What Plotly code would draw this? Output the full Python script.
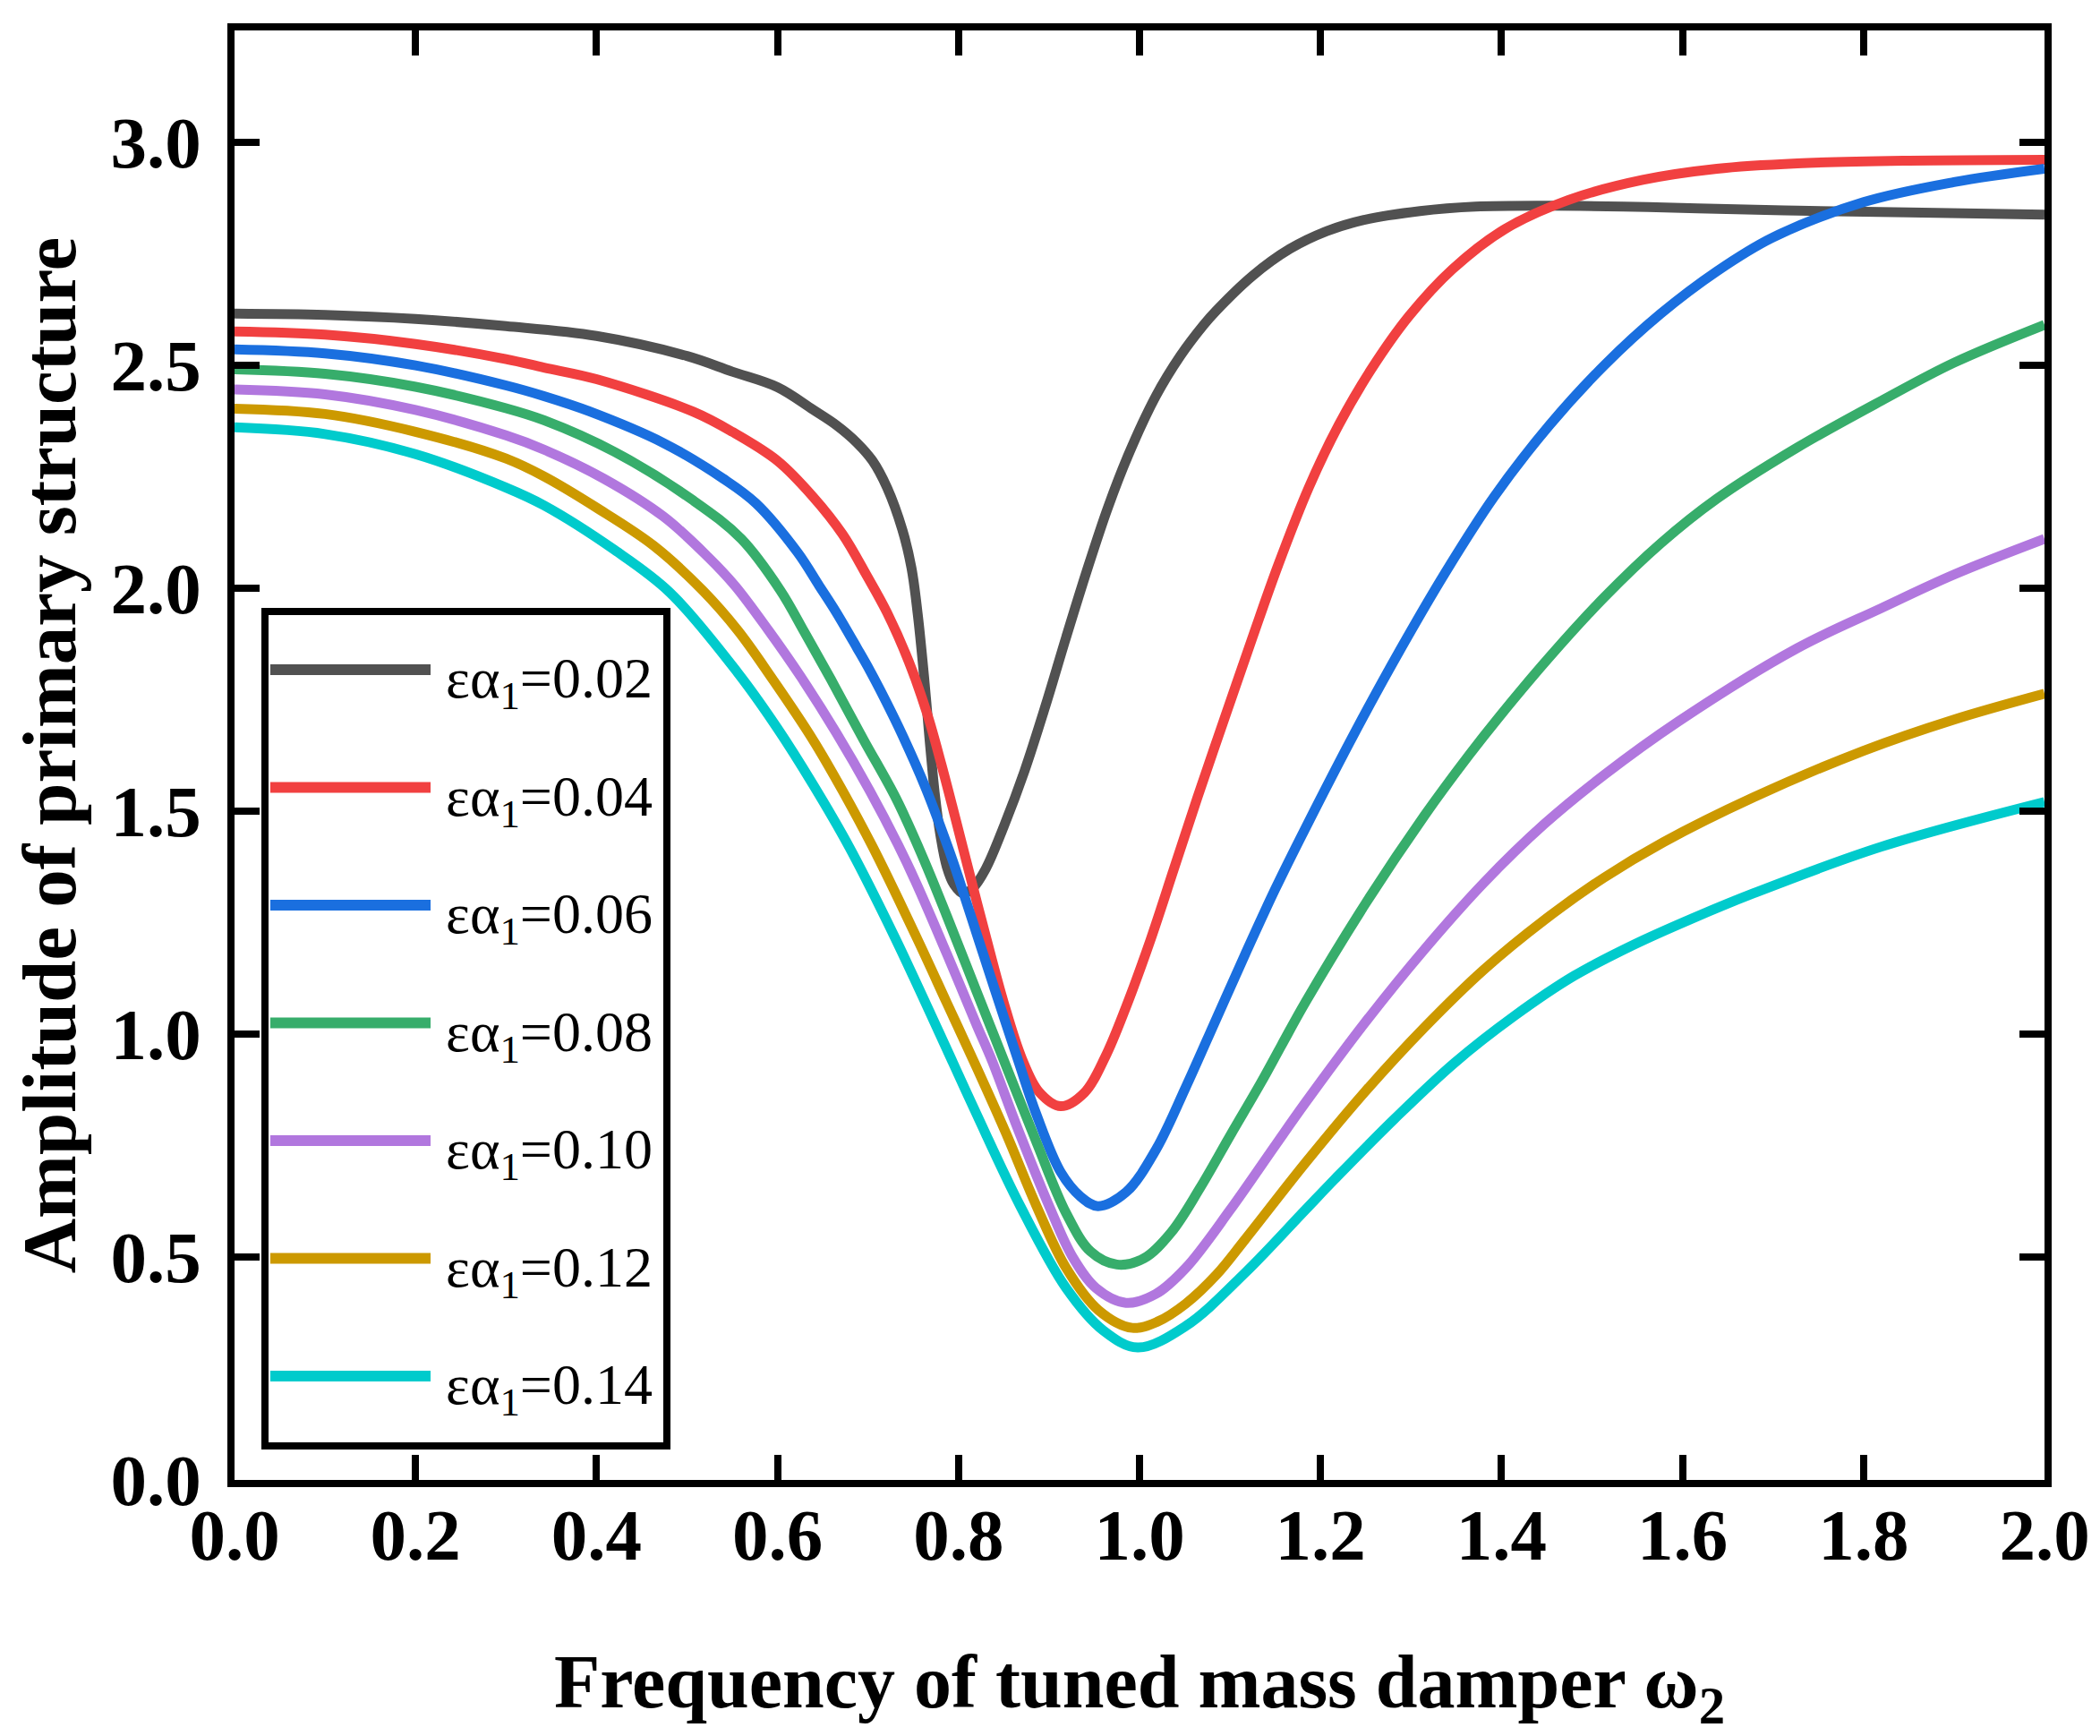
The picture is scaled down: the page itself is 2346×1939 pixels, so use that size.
import plotly.graph_objects as go

# ---- data ----
labels = ["εα<sub>1</sub>=0.02", "εα<sub>1</sub>=0.04", "εα<sub>1</sub>=0.06", "εα<sub>1</sub>=0.08",
          "εα<sub>1</sub>=0.10", "εα<sub>1</sub>=0.12", "εα<sub>1</sub>=0.14"]
colors = ["#515151", "#F14040", "#1A6FDF", "#37AD6B", "#B177DE", "#CC9900", "#00CBCC"]

w_002 = [0, 0.1, 0.2, 0.3, 0.4, 0.5, 0.55, 0.6, 0.639, 0.665, 0.688, 0.705, 0.721, 0.738, 0.748,
         0.755, 0.762, 0.768, 0.774, 0.780, 0.787, 0.795, 0.805, 0.815, 0.830, 0.850, 0.873, 0.896,
         0.919, 0.942, 0.965, 0.988, 1.018, 1.045, 1.071, 1.084, 1.125, 1.166, 1.207, 1.248, 1.31,
         1.371, 1.453, 1.535, 1.617, 1.727, 1.85, 2.0]
a_002 = [2.615, 2.612, 2.603, 2.587, 2.565, 2.52, 2.485, 2.45, 2.40, 2.365, 2.325, 2.285, 2.225, 2.13,
         2.045, 1.94, 1.80, 1.66, 1.535, 1.445, 1.375, 1.335, 1.315, 1.325, 1.37, 1.465, 1.59, 1.735,
         1.89, 2.04, 2.18, 2.30, 2.43, 2.52, 2.59, 2.62, 2.70, 2.76, 2.80, 2.825, 2.845,
         2.855, 2.857, 2.855, 2.851, 2.846, 2.842, 2.837]

w_004 = [0, 0.1, 0.2, 0.3, 0.342, 0.4, 0.507, 0.55, 0.60, 0.639, 0.672, 0.698, 0.721, 0.745, 0.765,
         0.781, 0.797, 0.814, 0.830, 0.850, 0.870, 0.889, 0.913, 0.939, 0.962, 0.985, 1.012,
         1.038, 1.064, 1.096, 1.125, 1.153, 1.187, 1.220, 1.256, 1.298, 1.346, 1.404, 1.474, 1.556,
         1.638, 1.727, 1.85, 2.0]
a_004 = [2.575, 2.568, 2.547, 2.513, 2.494, 2.468, 2.395, 2.35, 2.285, 2.205, 2.12, 2.03, 1.945, 1.835, 1.72,
         1.605, 1.48, 1.345, 1.22, 1.07, 0.945, 0.87, 0.838, 0.868, 0.948, 1.06, 1.21,
         1.37, 1.53, 1.72, 1.89, 2.05, 2.225, 2.365, 2.49, 2.61, 2.715, 2.805, 2.87, 2.915,
         2.94, 2.952, 2.958, 2.96]

w_006 = [0, 0.1, 0.2, 0.3, 0.342, 0.392, 0.474, 0.540, 0.576, 0.622, 0.646, 0.665, 0.688, 0.702, 0.72,
         0.738, 0.764, 0.789, 0.800, 0.820, 0.840, 0.866, 0.886, 0.913, 0.935, 0.954, 0.985, 1.018,
         1.051, 1.084, 1.117, 1.150, 1.183, 1.239, 1.289, 1.338, 1.392, 1.453, 1.514, 1.576, 1.638,
         1.699, 1.8, 1.9, 2.0]
a_006 = [2.535, 2.526, 2.499, 2.454, 2.43, 2.396, 2.325, 2.245, 2.19, 2.08, 2.005, 1.945, 1.865, 1.815, 1.745,
         1.67, 1.55, 1.415, 1.35, 1.225, 1.10, 0.94, 0.82, 0.69, 0.635, 0.614, 0.645, 0.74,
         0.88, 1.03, 1.18, 1.325, 1.46, 1.68, 1.865, 2.035, 2.205, 2.365, 2.50, 2.615, 2.71,
         2.785, 2.865, 2.91, 2.94]

w_008 = [0, 0.1, 0.2, 0.3, 0.342, 0.42, 0.507, 0.560, 0.603, 0.630, 0.659, 0.695, 0.731, 0.761,
         0.787, 0.820, 0.853, 0.886, 0.919, 0.946, 0.975, 1.005, 1.035, 1.067, 1.101, 1.134, 1.157,
         1.183, 1.249, 1.315, 1.364, 1.397, 1.453, 1.514, 1.576, 1.638, 1.727, 1.82, 1.9, 2.0]
a_008 = [2.49, 2.48, 2.451, 2.403, 2.376, 2.305, 2.196, 2.11, 1.995, 1.90, 1.795, 1.66, 1.528, 1.394,
         1.265, 1.095, 0.926, 0.758, 0.598, 0.512, 0.483, 0.497, 0.555, 0.655, 0.775, 0.89, 0.975,
         1.07, 1.29, 1.49, 1.625, 1.71, 1.845, 1.98, 2.10, 2.20, 2.315, 2.42, 2.505, 2.59]

w_010 = [0, 0.1, 0.2, 0.3, 0.342, 0.408, 0.474, 0.523, 0.553, 0.590, 0.626, 0.665, 0.702, 0.733, 0.754,
         0.787, 0.820, 0.837, 0.865, 0.901, 0.926, 0.952, 0.985, 1.018, 1.051, 1.1, 1.15, 1.183,
         1.249, 1.315, 1.381, 1.447, 1.513, 1.595, 1.727, 1.82, 1.9, 2.0]
a_010 = [2.445, 2.434, 2.399, 2.342, 2.31, 2.245, 2.16, 2.07, 2.005, 1.905, 1.80, 1.675, 1.545, 1.425, 1.335,
         1.18, 1.02, 0.94, 0.79, 0.61, 0.50, 0.43, 0.397, 0.417, 0.475, 0.605, 0.75, 0.845,
         1.025, 1.19, 1.34, 1.47, 1.58, 1.70, 1.865, 1.955, 2.03, 2.11]

w_012 = [0, 0.1, 0.2, 0.3, 0.342, 0.40, 0.463, 0.517, 0.556, 0.593, 0.639, 0.672, 0.705, 0.754, 0.787,
         0.820, 0.853, 0.886, 0.919, 0.955, 0.992, 1.02, 1.051, 1.085, 1.117, 1.183, 1.249, 1.315,
         1.381, 1.447, 1.513, 1.579, 1.678, 1.8, 1.9, 2.0]
a_012 = [2.402, 2.39, 2.35, 2.29, 2.25, 2.18, 2.095, 1.995, 1.905, 1.80, 1.66, 1.545, 1.42, 1.215, 1.07,
         0.925, 0.775, 0.615, 0.475, 0.38, 0.341, 0.355, 0.395, 0.46, 0.54, 0.71, 0.87, 1.015,
         1.145, 1.255, 1.35, 1.43, 1.53, 1.635, 1.705, 1.763]

w_014 = [0, 0.1, 0.2, 0.3, 0.342, 0.42, 0.481, 0.556, 0.600, 0.639, 0.679, 0.73, 0.794, 0.820, 0.868,
         0.919, 0.96, 0.998, 1.051, 1.117, 1.183, 1.216, 1.282, 1.348, 1.414, 1.480, 1.546, 1.612,
         1.678, 1.82, 2.0]
a_014 = [2.36, 2.345, 2.30, 2.225, 2.185, 2.085, 1.99, 1.81, 1.685, 1.56, 1.42, 1.215, 0.935, 0.82, 0.615,
         0.43, 0.335, 0.297, 0.345, 0.465, 0.605, 0.675, 0.81, 0.935, 1.04, 1.13, 1.20, 1.26,
         1.315, 1.42, 1.52]

x_ticks = [0.0, 0.2, 0.4, 0.6, 0.8, 1.0, 1.2, 1.4, 1.6, 1.8, 2.0]
y_ticks = [0.0, 0.5, 1.0, 1.5, 2.0, 2.5, 3.0]

series_w = [w_002, w_004, w_006, w_008, w_010, w_012, w_014]
series_a = [a_002, a_004, a_006, a_008, a_010, a_012, a_014]

# ---- figure ----
W, H = 2346, 1939
ML, MR, MT, MB = 254, 70, 26, 294
LW = 11
SERIF = "Liberation Serif"

fig = go.Figure()
for w, a, c, lab in zip(series_w, series_a, colors, labels):
    fig.add_trace(go.Scatter(x=w, y=a, mode="lines", name=lab,
                             line=dict(color=c, width=LW, shape="spline", smoothing=1.0),
                             showlegend=False))

axis_common = dict(showline=True, linecolor="black", linewidth=8, mirror="ticks",
                   ticks="inside", ticklen=28, tickwidth=8, tickcolor="black",
                   showgrid=False, zeroline=False,
                   tickfont=dict(family=SERIF, size=81, color="black", weight="bold"),
                   tickformat=".1f")

fig.update_layout(
    width=W, height=H,
    margin=dict(l=ML, r=MR, t=MT, b=MB, autoexpand=False),
    paper_bgcolor="white", plot_bgcolor="white",
    xaxis=dict(range=[0, 2.0], tickvals=x_ticks, ticklabelstandoff=-16,
               title=dict(text="Frequency of tuned mass damper ω<sub>2</sub>",
                          font=dict(family=SERIF, size=84, color="black", weight="bold"),
                          standoff=92),
               automargin=False, **axis_common),
    yaxis=dict(range=[0, 3.25], tickvals=y_ticks, ticklabelstandoff=13,
               title=dict(text="Amplitude of primary structure",
                          font=dict(family=SERIF, size=85, color="black", weight="bold"),
                          standoff=51),
               automargin=False, **axis_common),
)

# ---- legend drawn as a box with line samples and text ----
plot_w = W - ML - MR
plot_h = H - MT - MB
def px_to_paper_x(px):
    return (px - ML) / plot_w
def px_to_paper_y(py):
    return (H - MB - py) / plot_h

fig.add_shape(type="rect", xref="paper", yref="paper",
              x0=px_to_paper_x(288), x1=px_to_paper_x(737),
              y0=px_to_paper_y(1607), y1=px_to_paper_y(675),
              line=dict(color="black", width=8), fillcolor="white", layer="above")

row0, row_step = 740, 131.5
for i, (lab, c) in enumerate(zip(labels, colors)):
    yy = row0 + i * row_step
    fig.add_shape(type="line", xref="paper", yref="paper",
                  x0=px_to_paper_x(294), x1=px_to_paper_x(473),
                  y0=px_to_paper_y(yy), y1=px_to_paper_y(yy),
                  line=dict(color=c, width=12), layer="above")
    fig.add_annotation(xref="paper", yref="paper",
                       x=px_to_paper_x(488), y=px_to_paper_y(yy + 14),
                       xanchor="left", yanchor="middle", showarrow=False,
                       text=lab, font=dict(family=SERIF, size=64, color="black"))

fig.write_html("out.html")
